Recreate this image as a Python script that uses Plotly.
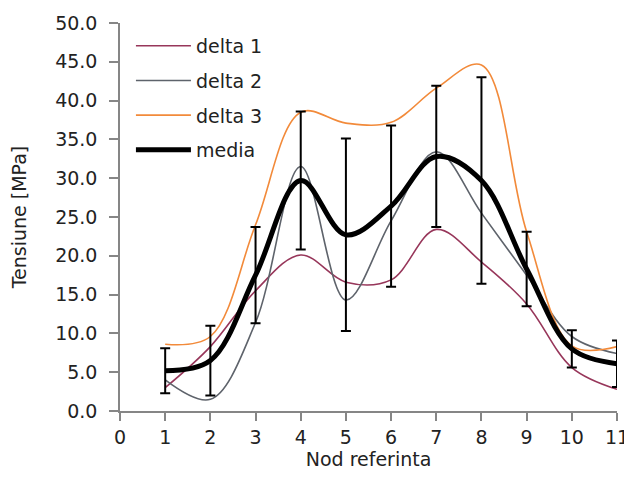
import plotly.graph_objects as go

nodes = [1, 2, 3, 4, 5, 6, 7, 8, 9, 10, 11]
delta1 = [3.0, 8.3, 15.5, 20.1, 16.6, 16.9, 23.4, 19.2, 13.8, 5.6, 2.8]
delta2 = [4.0, 1.5, 11.4, 31.5, 14.3, 24.5, 33.4, 25.5, 17.5, 9.6, 7.4]
delta3 = [8.6, 9.6, 24.0, 38.5, 37.1, 37.2, 41.6, 44.6, 23.1, 8.4, 8.3]
media = [5.2, 6.5, 17.5, 29.7, 22.7, 26.4, 32.8, 29.7, 18.3, 8.0, 6.1]
media_err = [2.9, 4.5, 6.2, 8.9, 12.4, 10.4, 9.1, 13.3, 4.8, 2.4, 3.0]
x_ticks = list(range(0, 12))
y_ticks = [0, 5, 10, 15, 20, 25, 30, 35, 40, 45, 50]

FONT = "DejaVu Sans"
TXT = "#222222"

fig = go.Figure()
series = [
    ("delta 1", delta1, "#97365A", 1.6),
    ("delta 2", delta2, "#5E636B", 1.6),
    ("delta 3", delta3, "#F28A3A", 1.6),
]
for name, vals, col, w in series:
    fig.add_trace(go.Scatter(
        x=nodes, y=vals, name=name, mode="lines",
        line=dict(color=col, width=w, shape="spline", smoothing=1.0),
        legendgroup=name,
    ))
fig.add_trace(go.Scatter(
    x=nodes, y=media, name="media", mode="lines",
    line=dict(color="black", width=5, shape="spline", smoothing=1.0),
    error_y=dict(type="data", array=media_err, visible=True,
                 color="black", thickness=2, width=5),
    legendgroup="media",
))

fig.update_layout(
    width=632, height=492,
    margin=dict(l=112, r=23, t=15, b=89, autoexpand=False),
    paper_bgcolor="white", plot_bgcolor="white",
    font=dict(family=FONT, size=18, color=TXT),
    showlegend=True,
    legend=dict(
        x=0.022, y=0.99, xanchor="left", yanchor="top",
        bgcolor="rgba(0,0,0,0)", font=dict(family=FONT, size=19, color=TXT),
        tracegroupgap=7, itemwidth=55,
    ),
    xaxis=dict(
        range=[0, 11], tickmode="array", tickvals=x_ticks,
        ticktext=[str(v) for v in x_ticks],
        showgrid=False, zeroline=False, automargin=True,
        showline=True, linecolor="#868686", linewidth=1.5,
        ticks="outside", ticklen=8, tickcolor="#868686", tickwidth=1.5,
        tickfont=dict(family=FONT, size=19, color=TXT),
        title=dict(text="Nod referinta", font=dict(family=FONT, size=19, color=TXT), standoff=4),
    ),
    yaxis=dict(
        range=[0, 50], tickmode="array", tickvals=y_ticks,
        ticktext=[f"{v:.1f}" for v in y_ticks],
        showgrid=False, zeroline=False, automargin=True,
        showline=True, linecolor="#868686", linewidth=1.5,
        ticks="outside", ticklen=9, tickcolor="#868686", tickwidth=1.5,
        ticklabelstandoff=8,
        tickfont=dict(family=FONT, size=19, color=TXT),
        title=dict(text="Tensiune [MPa]", font=dict(family=FONT, size=19, color=TXT), standoff=24),
    ),
)

fig.write_html("out.html")
